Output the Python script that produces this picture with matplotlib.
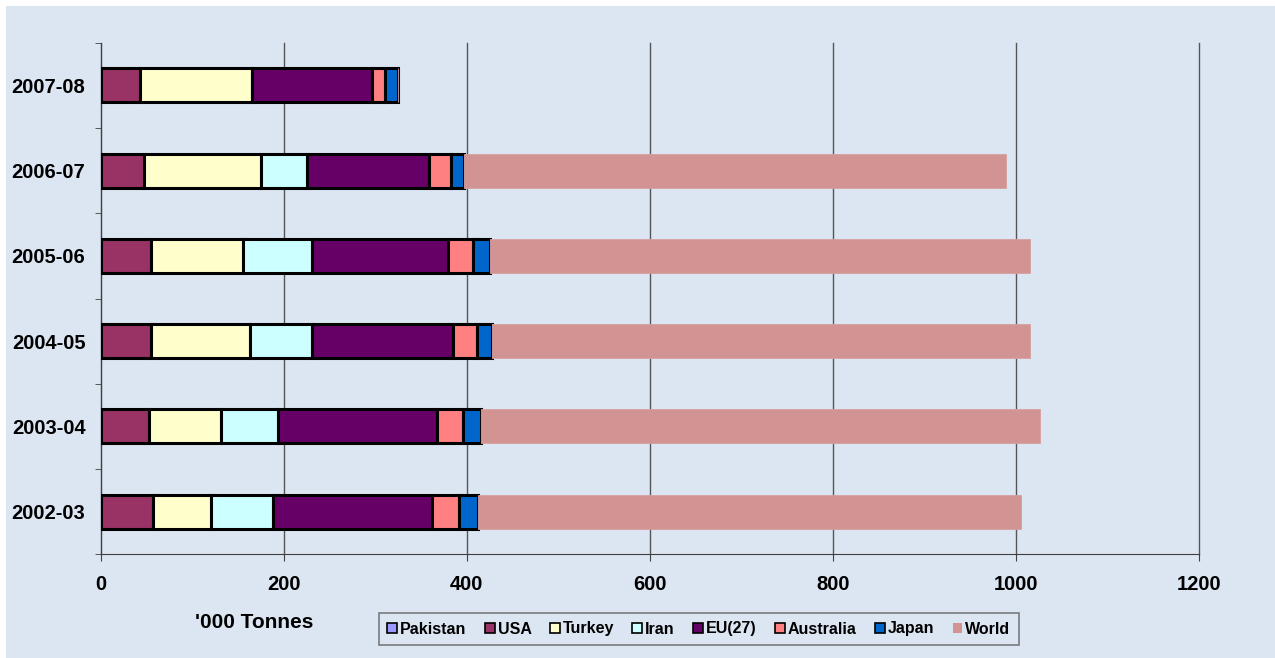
import matplotlib
matplotlib.use("Agg")
import matplotlib.pyplot as plt
from matplotlib.patches import Patch, Rectangle
import numpy as np

plt.rcParams['font.family'] = ['Liberation Sans', 'DejaVu Sans']
plt.rcParams['font.weight'] = 'bold'

# --- data ('000 tonnes) -----------------------------------------------------
seasons = ["2007-08", "2006-07", "2005-06", "2004-05", "2003-04", "2002-03"]
pakistan = [0, 0, 0, 0, 0, 0]
usa = [43, 47, 55, 55, 53, 57]
turkey = [122, 128, 101, 108, 78, 64]
iran = [0, 50, 75, 68, 63, 67]
eu27 = [131, 134, 148, 154, 174, 174]
australia = [15, 24, 28, 26, 28, 30]
japan = [14, 14, 18, 17, 19, 20]
world = [0, 592, 590, 588, 611, 594]

series = [
    ("Pakistan", pakistan, "#9999FF"),
    ("USA", usa, "#993366"),
    ("Turkey", turkey, "#FFFFCC"),
    ("Iran", iran, "#CCFFFF"),
    ("EU(27)", eu27, "#660066"),
    ("Australia", australia, "#FF8080"),
    ("Japan", japan, "#0066CC"),
    ("World", world, "#D29393"),
]

bg = "#DCE6F2"

fig = plt.figure(figsize=(12.75, 6.58), dpi=100, facecolor="white")
fig.patches.append(Rectangle((6 / 1275, 0), 1 - 6 / 1275, 1 - 6 / 658,
                             transform=fig.transFigure, facecolor=bg,
                             edgecolor="none", zorder=-10))
ax = fig.add_axes([0.079, 0.1576, 0.8613, 0.935 - 0.1576])
ax.set_facecolor(bg)

ypos = np.arange(len(seasons))
left = np.zeros(len(seasons))
for name, vals, col in series:
    vals = np.array(vals, dtype=float)
    if name == "World":
        ax.barh(ypos, vals, left=left, height=0.4, color=col,
                edgecolor="#D8A0A0", linewidth=0.6, zorder=3)
    else:
        ax.barh(ypos, vals, left=left, height=0.4, color=col,
                edgecolor="black", linewidth=2.2, zorder=3)
    left += vals

ax.set_xlim(0, 1200)
ax.set_ylim(len(seasons) - 0.5, -0.5)
ax.set_xticks(np.arange(0, 1201, 200))
ax.set_yticks(ypos)
ax.set_yticklabels(seasons)
ax.set_yticks(np.arange(-0.5, len(seasons), 1.0), minor=True)
ax.tick_params(axis="y", which="major", length=0, pad=11, labelsize=14.5)
ax.tick_params(axis="y", which="minor", length=4, color="#404040")
ax.tick_params(axis="x", length=5, pad=10, labelsize=14.5, color="#404040")
ax.xaxis.grid(True, color="#555555", linewidth=1.0, zorder=0)
for gl in ax.get_xgridlines():
    gl.set_clip_on(False)
ax.set_axisbelow(True)
for s in ["top", "right"]:
    ax.spines[s].set_visible(False)
ax.spines["left"].set_color("#404040")
ax.spines["bottom"].set_color("#404040")

fig.text(254 / 1275, 1 - 622 / 658, "'000 Tonnes", ha="center", va="center",
         fontsize=15, fontweight="bold")

handles = []
for name, vals, col in series:
    if name == "World":
        handles.append(Patch(facecolor=col, edgecolor="none", label=name))
    else:
        handles.append(Patch(facecolor=col, edgecolor="black", linewidth=1.2,
                             label=name))
leg = fig.legend(handles=handles, loc="center", ncol=8,
                 bbox_to_anchor=(699 / 1275, 1 - 629 / 658), fontsize=11.5,
                 handlelength=0.6, handleheight=0.6, handletextpad=0.2,
                 columnspacing=1.15, frameon=True, fancybox=False,
                 borderpad=0.55)
leg.get_frame().set_facecolor(bg)
leg.get_frame().set_edgecolor("#606060")
leg.get_frame().set_linewidth(1.2)

fig.savefig("out.png", dpi=100, facecolor=fig.get_facecolor())
